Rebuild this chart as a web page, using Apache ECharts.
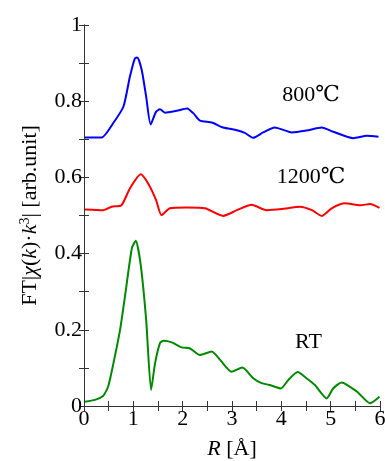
<!DOCTYPE html>
<html>
<head>
<meta charset="utf-8">
<script src="https://cdn.jsdelivr.net/npm/echarts@6/dist/echarts.min.js"></script>
<style>html,body{margin:0;padding:0;background:#fff}#c{width:385px;height:461px}</style>
</head>
<body>
<div id="c"></div>
<script>
// R [Å] and values for each curve
const r800 = [0.02,0.36,0.59,0.80,0.93,1.03,1.08,1.17,1.26,1.35,1.46,1.54,1.64,1.88,2.09,2.22,2.35,2.59,2.82,3.10,3.26,3.43,3.63,3.87,4.21,4.51,4.82,5.05,5.46,5.73,5.97];
const v800 = [0.705,0.705,0.742,0.786,0.864,0.912,0.915,0.882,0.812,0.739,0.772,0.779,0.770,0.775,0.781,0.768,0.749,0.744,0.731,0.724,0.717,0.704,0.718,0.731,0.718,0.723,0.731,0.720,0.703,0.709,0.707];

const r1200 = [0.02,0.39,0.56,0.76,0.93,1.15,1.30,1.46,1.57,1.74,2.08,2.45,2.82,3.10,3.40,3.70,4.01,4.38,4.62,4.82,5.02,5.29,5.60,5.80,5.99];
const v1200 = [0.516,0.514,0.523,0.527,0.571,0.608,0.584,0.541,0.501,0.519,0.521,0.519,0.499,0.514,0.528,0.514,0.517,0.523,0.514,0.499,0.519,0.532,0.527,0.530,0.520];

const rRT = [0.02,0.22,0.39,0.49,0.59,0.73,0.83,0.97,1.05,1.15,1.26,1.36,1.44,1.54,1.61,1.78,1.98,2.15,2.35,2.59,2.76,2.99,3.21,3.43,3.60,3.77,3.99,4.14,4.33,4.51,4.68,4.92,5.05,5.22,5.53,5.80,5.99];
const vRT = [0.011,0.016,0.027,0.051,0.108,0.199,0.287,0.414,0.434,0.370,0.226,0.042,0.112,0.165,0.171,0.167,0.154,0.151,0.134,0.143,0.121,0.090,0.101,0.073,0.060,0.055,0.046,0.068,0.089,0.073,0.055,0.020,0.046,0.062,0.038,0.007,0.024];

// annotation labels and their positions in data space
const labels = ['800℃','1200℃','RT'];
const labelPos = [[4.6,0.815],[4.6,0.6],[4.55,0.168]];

const colors = ['#0000ff','#ff0000','#008a00'];
const FONT = '"Liberation Serif", "DejaVu Serif", serif';

function pairs(a,b){return a.map((x,i)=>[x,b[i]]);}

const chart = echarts.init(document.getElementById('c'));
const tickCommon = {show:true, inside:true, length:5, lineStyle:{color:'#333',width:1}};
const lineCommon = {show:true, lineStyle:{color:'#333',width:1}};
const xFmt = v => (Math.abs(v - Math.round(v)) < 1e-6 ? String(Math.round(v)) : '');
const yFmt = v => { const k = Math.round(v*10); return k % 2 === 0 ? String(k/10) : ''; };

function mk(i){
  return {
    type:'line',
    data: pairs([r800,r1200,rRT][i],[v800,v1200,vRT][i]),
    showSymbol:false, symbol:'none',
    smooth:0.2,
    lineStyle:{color:colors[i], width:2},
    itemStyle:{color:colors[i]},
    markPoint:{
      symbol:'rect', symbolSize:[1,1],
      itemStyle:{color:'transparent'},
      label:{show:true, position:'inside', formatter:labels[i], color:'#000', fontSize:22, fontFamily:FONT},
      data:[{coord:labelPos[i]}]
    },
    z:3
  };
}

chart.setOption({
  animation:false,
  grid:{left:84, right:5, top:25, bottom:55, containLabel:false, outerBoundsMode:'none'},
  xAxis:[
    {type:'value', min:0, max:6, interval:0.5, position:'bottom',
     axisLine:lineCommon, axisTick:tickCommon, splitLine:{show:false},
     axisLabel:{color:'#000', fontSize:22, fontFamily:FONT, margin:2, formatter:xFmt, showMinLabel:true, showMaxLabel:true},
     name:'{i|R} [Å]', nameLocation:'middle', nameGap:32,
     nameTextStyle:{color:'#000', fontSize:22, fontFamily:FONT, rich:{i:{fontStyle:'italic', fontSize:22, fontFamily:FONT, color:'#000'}}}
    },
    {type:'value', min:0, max:6, interval:0.5, position:'top',
     axisLine:lineCommon, axisTick:tickCommon, splitLine:{show:false},
     axisLabel:{show:false}}
  ],
  yAxis:[
    {type:'value', min:0, max:1, interval:0.1, position:'left',
     axisLine:lineCommon, axisTick:tickCommon, splitLine:{show:false},
     axisLabel:{color:'#000', fontSize:22, fontFamily:FONT, margin:2, formatter:yFmt},
     name:'FT|{i|χ}({i|k})·{i|k}{sup|3}| [arb.unit]', nameLocation:'middle', nameGap:42, nameRotate:90,
     nameTextStyle:{color:'#000', fontSize:22, fontFamily:FONT,
       rich:{i:{fontStyle:'italic', fontSize:22, fontFamily:FONT, color:'#000'},
             sup:{fontSize:14, fontFamily:FONT, color:'#000', verticalAlign:'top', padding:[0,0,10,0]}}}
    },
    {type:'value', min:0, max:1, interval:0.1, position:'right',
     axisLine:lineCommon, axisTick:tickCommon, splitLine:{show:false},
     axisLabel:{show:false}}
  ],
  series:[mk(0),mk(1),mk(2)]
});
</script>
</body>
</html>
